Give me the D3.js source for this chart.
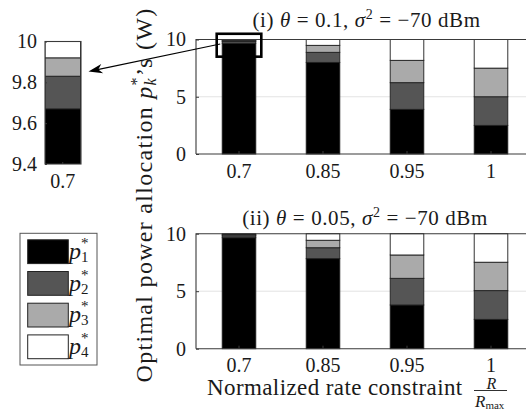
<!DOCTYPE html>
<html><head><meta charset="utf-8">
<script src="https://cdn.jsdelivr.net/npm/d3@7"></script>
</head><body style="margin:0">
<svg id="c" width="526" height="409"></svg>
<script>
// ---------- data ----------
const categories = ["0.7", "0.85", "0.95", "1"];
const seriesKeys = ["p1", "p2", "p3", "p4"];
const seriesSubs = ["1", "2", "3", "4"];
const colors = ["#000000", "#555555", "#aaaaaa", "#ffffff"];
const yTicks = [0, 5, 10];
const insetTicks = [9.4, 9.6, 9.8, 10];
const insetTickLabels = ["9.4", "9.6", "9.8", "10"];
// panel (i) theta = 0.1
const p1Top = [9.67, 8.00, 3.90, 2.50];
const p2Top = [0.16, 0.88, 2.33, 2.50];
const p3Top = [0.09, 0.61, 1.95, 2.50];
const p4Top = [0.08, 0.51, 1.82, 2.50];
// panel (ii) theta = 0.05
const p1Bot = [9.65, 7.83, 3.80, 2.55];
const p2Bot = [0.17, 0.95, 2.32, 2.50];
const p3Bot = [0.10, 0.65, 2.03, 2.47];
const p4Bot = [0.08, 0.57, 1.85, 2.48];

const FONT = '"Liberation Serif", "Times New Roman", cursive';
const TXT = "#1a1a1a";
const svg = d3.select("#c");
svg.append("rect").attr("width", 526).attr("height", 409).attr("fill", "#fff");

function rows(a, b, c, d) {
  return categories.map((cat, i) => ({cat, p1: a[i], p2: b[i], p3: c[i], p4: d[i]}));
}
const stack = d3.stack().keys(seriesKeys);

function setFont(sel) {
  return sel.attr("font-family", FONT).style("font-family", FONT);
}
function mkText(parent) {
  return setFont(parent.append("text")).attr("fill", TXT);
}
// rich text helper (italic / super- and subscripts as tspans)
function rich(t, segs) {
  let pdx = 0, pdy = 0;
  segs.forEach(s => {
    if (s.supsub) {
      const sup = setFont(t.append("tspan")).text(s.sup).attr("font-size", s.fs).attr("dy", s.up + pdy);
      if (pdx) sup.attr("dx", pdx);
      setFont(t.append("tspan")).text(s.sub).attr("font-style", s.subIt ? "italic" : null)
        .attr("font-size", s.fs).attr("dx", -s.back).attr("dy", s.down);
      pdx = s.after || 0; pdy = -(s.up + s.down);
      return;
    }
    const ts = setFont(t.append("tspan")).text(s.t);
    if (s.it) ts.attr("font-style", "italic");
    if (s.fs) ts.attr("font-size", s.fs);
    const dy = (s.dy || 0) + pdy, dx = (s.dx || 0) + pdx;
    if (dy) ts.attr("dy", dy);
    if (dx) ts.attr("dx", dx);
    pdx = 0; pdy = 0;
  });
}

const X0 = 196, X1 = 533;
function styleAxis(a) {
  setFont(a).attr("font-size", 20);
  setFont(a.selectAll("text")).attr("fill", TXT);
  a.select(".domain").remove();
  a.selectAll("line").attr("stroke", "#3a3a3a");
}

function panel(cfg) {
  const data = stack(rows(...cfg.vals));
  const x = d3.scaleBand().domain(categories).range([X0 + 1, X1]).paddingInner(0.6).paddingOuter(0.3);
  const y = d3.scaleLinear().domain([0, 10]).range([cfg.yb, cfg.yt]);
  const g = svg.append("g");
  g.append("g").selectAll("line").data(yTicks.filter(v => v > 0 && v < 10)).join("line")
    .attr("x1", X0).attr("x2", X1).attr("y1", d => y(d)).attr("y2", d => y(d))
    .attr("stroke", "#e3e3e3").attr("stroke-width", 1);
  g.append("g").selectAll("g").data(data).join("g")
    .attr("fill", (d, i) => colors[i])
    .selectAll("rect").data(d => d).join("rect")
    .attr("x", d => x(d.data.cat)).attr("width", x.bandwidth())
    .attr("y", d => y(d[1])).attr("height", d => y(d[0]) - y(d[1]))
    .attr("stroke", "#1e1e1e").attr("stroke-width", 0.9);
  g.append("path").attr("d", `M${X0},${y(0)}V${y(10)}H${X1}M${X0},${y(0)}H${X1}`)
    .attr("fill", "none").attr("stroke", "#3a3a3a").attr("stroke-width", 1.1);
  styleAxis(g.append("g").attr("transform", `translate(${X0},0)`)
    .call(d3.axisLeft(y).tickValues(yTicks).tickSizeInner(-3).tickSizeOuter(0).tickPadding(10)));
  styleAxis(g.append("g").attr("transform", `translate(0,${y(0)})`)
    .call(d3.axisBottom(x).tickSizeInner(-3).tickSizeOuter(0).tickPadding(cfg.tp)));
  const t = mkText(g).attr("x", cfg.tx).attr("y", cfg.ty).attr("text-anchor", "middle")
    .attr("font-size", 21).attr("letter-spacing", 0.6);
  rich(t, [{t: cfg.label + " "}, {t: "θ", it: true}, {t: " = " + cfg.theta + ", "}, {t: "σ", it: true},
    {t: "2", fs: 14, dy: -8}, {t: " = −70 dBm", dy: 8}]);
  return {x, y};
}

const topP = panel({vals: [p1Top, p2Top, p3Top, p4Top], yb: 154, yt: 39.5, ty: 26.5, tx: 366.5,
  label: "(i)", theta: "0.1", tp: 10});
panel({vals: [p1Bot, p2Bot, p3Bot, p4Bot], yb: 348.7, yt: 233.7, ty: 225, tx: 365,
  label: "(ii)", theta: "0.05", tp: 9.5});

// ---------- inset (zoom of the 0.7 bar of panel i) ----------
const xi = d3.scaleBand().domain(["0.7"]).range([45, 80.5]).padding(0);
const yi = d3.scaleLinear().domain([9.4, 10]).range([164, 41.5]);
svg.append("defs").append("clipPath").attr("id", "inclip").append("rect")
  .attr("x", 45).attr("y", yi(10)).attr("width", 36).attr("height", yi(9.4) - yi(10));
const inData = stack(rows(p1Top, p2Top, p3Top, p4Top));
const gi = svg.append("g");
gi.append("g").attr("clip-path", "url(#inclip)").selectAll("g").data(inData).join("g")
  .attr("fill", (d, i) => colors[i])
  .selectAll("rect").data(d => d.filter(e => e.data.cat === "0.7")).join("rect")
  .attr("x", d => xi(d.data.cat)).attr("width", xi.bandwidth())
  .attr("y", d => yi(d[1])).attr("height", d => yi(d[0]) - yi(d[1]))
  .attr("stroke", "#1e1e1e").attr("stroke-width", 0.9);
gi.append("rect").attr("x", 45).attr("y", yi(10)).attr("width", 36).attr("height", yi(9.4) - yi(10))
  .attr("fill", "none").attr("stroke", "#3a3a3a").attr("stroke-width", 1.1);
styleAxis(gi.append("g").attr("transform", "translate(45,0)")
  .call(d3.axisLeft(yi).tickValues(insetTicks).tickFormat((d, i) => insetTickLabels[i])
    .tickSizeInner(-2).tickSizeOuter(0).tickPadding(8)));
styleAxis(gi.append("g").attr("transform", `translate(0,${yi(9.4)})`)
  .call(d3.axisBottom(xi).tickSizeInner(-2).tickSizeOuter(0).tickPadding(10)));

// zoom box on the 0.7 bar
const bx = topP.x("0.7");
svg.append("rect").attr("x", bx - 5.5).attr("y", topP.y(10.5))
  .attr("width", topP.x.bandwidth() + 11).attr("height", topP.y(8.5) - topP.y(10.5))
  .attr("fill", "none").attr("stroke", "#000").attr("stroke-width", 2.6);

// arrow
const ax0 = bx - 2, ay0 = topP.y(9.6), ax1 = 88.5, ay1 = 71.5;
const ang = Math.atan2(ay1 - ay0, ax1 - ax0);
svg.append("line").attr("x1", ax0).attr("y1", ay0)
  .attr("x2", ax1 - 8 * Math.cos(ang)).attr("y2", ay1 - 8 * Math.sin(ang))
  .attr("stroke", "#000").attr("stroke-width", 1.1);
{
  const L = 14, W = 4.8, back = 10;
  const c = Math.cos(ang), s = Math.sin(ang);
  const bxp = ax1 - L * c, byp = ay1 - L * s;
  const p1 = [bxp - W * s, byp + W * c], p2 = [bxp + W * s, byp - W * c];
  const m = [ax1 - back * c, ay1 - back * s];
  svg.append("path").attr("d", `M${ax1},${ay1}L${p1}L${m}L${p2}Z`).attr("fill", "#000");
}

// y label
const yl = mkText(svg).attr("transform", "translate(151.5,195) rotate(-90)")
  .attr("text-anchor", "middle").attr("font-size", 24).attr("letter-spacing", 1.3);
rich(yl, [{t: "Optimal power allocation "}, {t: "p", it: true},
  {supsub: true, sup: "*", sub: "k", subIt: true, fs: 16, up: -10, down: 14, back: 9.3, after: 1}, {t: "’s (W)"}]);

// x label with fraction R / R_max
const xl = mkText(svg).attr("x", 207).attr("y", 394.5).attr("font-size", 23).attr("letter-spacing", 0.4);
rich(xl, [{t: "Normalized rate constraint"}]);
const fx0 = 474, fx1 = 507, fy = 390.5;
svg.append("line").attr("x1", fx0).attr("x2", fx1).attr("y1", fy).attr("y2", fy)
  .attr("stroke", TXT).attr("stroke-width", 0.9);
const num = mkText(svg).attr("x", (fx0 + fx1) / 2 + 1).attr("y", 388.5).attr("text-anchor", "middle")
  .attr("font-size", 16);
rich(num, [{t: "R", it: true}]);
const den = mkText(svg).attr("x", fx0 + 1).attr("y", 406.5).attr("font-size", 17);
rich(den, [{t: "R", it: true}, {t: "max", fs: 11, dy: 2}]);

// legend
const lg = svg.append("g");
lg.append("rect").attr("x", 20).attr("y", 233.3).attr("width", 77).attr("height", 131.7)
  .attr("fill", "#fff").attr("stroke", "#555").attr("stroke-width", 1);
const li = lg.selectAll("g").data(seriesKeys).join("g")
  .attr("transform", (d, i) => `translate(0,${i * 31.7})`);
li.append("rect").attr("x", 27.7).attr("y", 239.8).attr("width", 40.6).attr("height", 23.8)
  .attr("fill", (d, i) => colors[i]).attr("stroke", "#222").attr("stroke-width", 1);
li.each(function (d, i) {
  const t = mkText(d3.select(this)).attr("x", 69).attr("y", 259).attr("font-size", 24);
  rich(t, [{t: "p", it: true}, {supsub: true, sup: "*", sub: seriesSubs[i], fs: 15, up: -11, down: 14, back: 7.5}]);
});
</script>
</body></html>
